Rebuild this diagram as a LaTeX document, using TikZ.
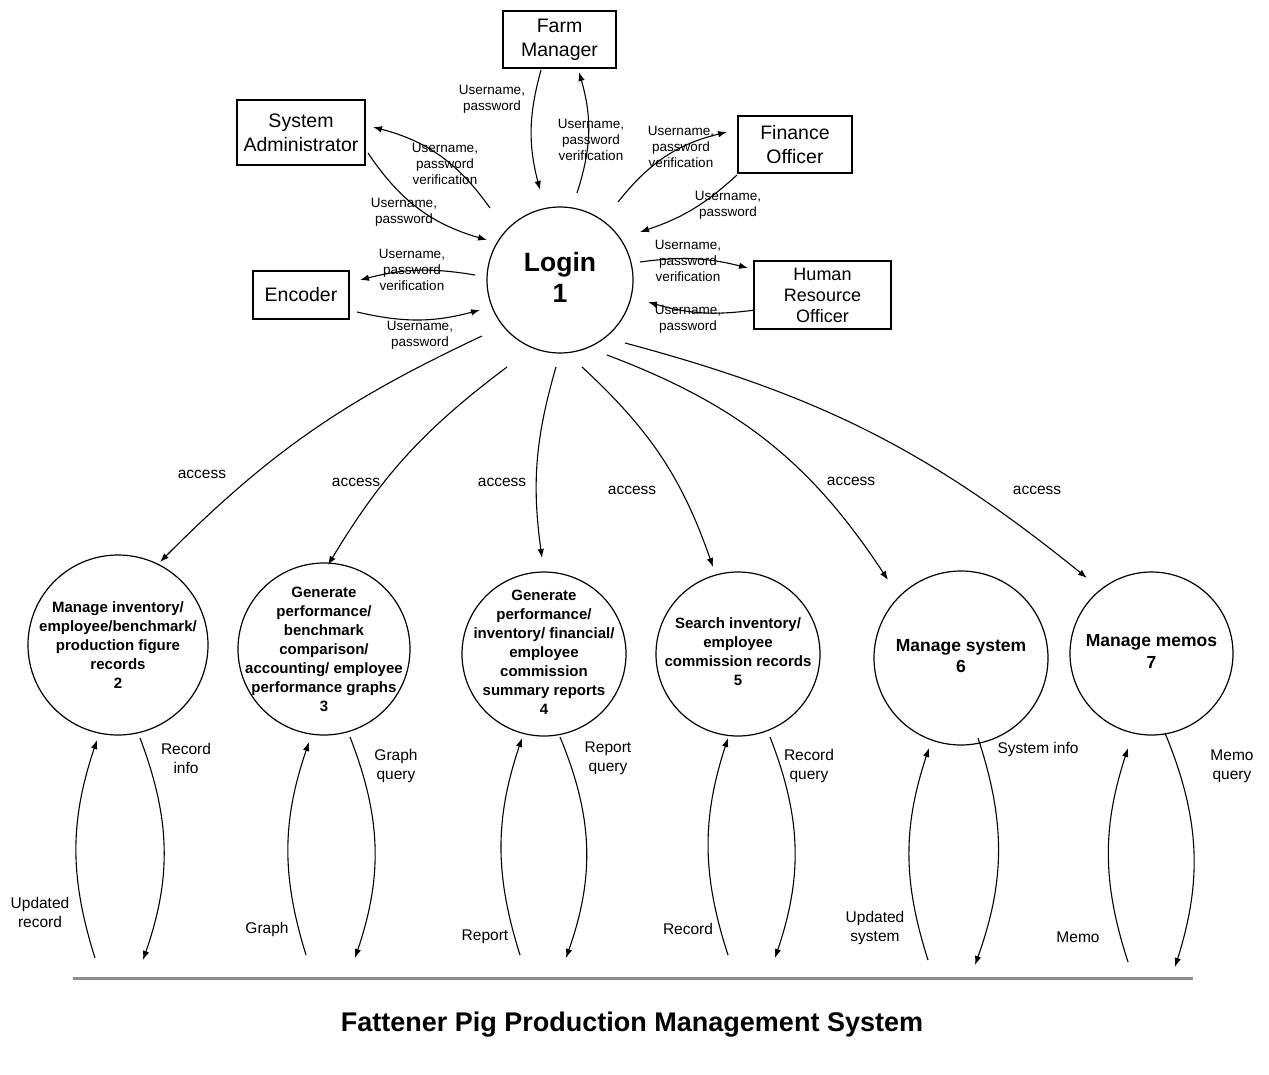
\documentclass[tikz,border=0pt]{standalone}
\usepackage{fontspec}
\setmainfont{Liberation Sans}
\usetikzlibrary{arrows.meta,calc}
\begin{document}
\begin{tikzpicture}[x=1pt,y=1pt,
  ent/.style={draw, line width=1.3pt, align=center, inner sep=0pt, font=\fontsize{19.5}{24}\selectfont},
  proc/.style={draw, circle, line width=1.2pt, inner sep=0pt},
  ptext/.style={font=\bfseries\fontsize{15}{19}\selectfont, align=center, inner sep=0pt},
  ptextL/.style={font=\bfseries\fontsize{17.5}{21.5}\selectfont, align=center, inner sep=0pt},
  lbl/.style={font=\fontsize{13.5}{16}\selectfont, align=center, inner sep=0pt},
  blbl/.style={font=\fontsize{15.5}{19}\selectfont, align=center, inner sep=0pt},
  flow/.style={line width=1.1pt, -{Latex[length=9pt,width=6.5pt]}},
  store/.style={line width=3pt, color=black!45}
]
\useasboundingbox (0,0) rectangle (1269,-1074);

% external entities
\node[ent, minimum width=113pt, minimum height=57pt] (fm) at (559.5,-39.5) {Farm\\Manager};
\node[ent, minimum width=128pt, minimum height=65pt] (sa) at (301,-132.5) {System\\Administrator};
\node[ent, minimum width=114pt, minimum height=57pt] (fo) at (795,-144.5) {Finance\\Officer};
\node[ent, minimum width=96pt, minimum height=48pt] (enc) at (301,-295) {Encoder};
\node[ent, minimum width=137pt, minimum height=68pt, font=\fontsize{18}{21}\selectfont] (hro) at (822.5,-295) {Human\\Resource\\Officer};

% login process
\node[proc, minimum size=146pt, label={[font=\bfseries\fontsize{26.5}{31}\selectfont, align=center, inner sep=0pt, name=tl, yshift=3pt]center:Login\\1}] (login) at (560,-280) {};

% processes
\node[proc, minimum size=180pt, label={[ptext, name=t2]center:Manage inventory/\\employee/benchmark/\\production figure\\records\\2}] (c2) at (118,-645) {};
\node[proc, minimum size=172pt, label={[ptext, name=t3]center:Generate\\performance/\\benchmark\\comparison/\\accounting/ employee\\performance graphs\\3}] (c3) at (324,-649) {};
\node[proc, minimum size=164pt, label={[ptext, name=t4, yshift=2pt]center:Generate\\performance/\\inventory/ financial/\\employee\\commission\\summary reports\\4}] (c4) at (544,-654) {};
\node[proc, minimum size=164pt, label={[ptext, name=t5, yshift=2pt]center:Search inventory/\\employee\\commission records\\5}] (c5) at (738,-654) {};
\node[proc, minimum size=174pt, label={[ptextL, name=t6, yshift=2pt]center:Manage system\\6}] (c6) at (961,-658) {};
\node[proc, minimum size=163pt, label={[ptextL, name=t7, yshift=2pt]center:Manage memos\\7}] (c7) at (1151.5,-653.5) {};

% data store line
\coordinate (ds1) at (73,-978);
\coordinate (ds2) at (1193,-978);
\draw[store] (ds1) -- (ds2);

% login <-> entities
\draw[flow] ($(fm)+(-18.5,-30.5)$) to[bend right=15] ($(login)+(-20,90)$);
\draw[flow] ($(login)+(17,87)$) to[bend right=17] ($(fm)+(19.5,-32.5)$);
\draw[flow] ($(login)+(-70,72)$) to[bend right=20] ($(sa)+(72,5.5)$);
\draw[flow] ($(sa)+(67,-20.5)$) to[bend right=20] ($(login)+(-73,40)$);
\draw[flow] ($(login)+(-85,5)$) to[bend right=12] ($(enc)+(59,15)$);
\draw[flow] ($(enc)+(56,-17)$) to[bend right=14] ($(login)+(-80,-30)$);
\draw[flow] ($(login)+(58,78)$) to[bend left=19] ($(fo)+(-68,12.5)$);
\draw[flow] ($(fo)+(-58,-30.5)$) to[bend left=12] ($(login)+(80,48)$);
\draw[flow] ($(login)+(80,18)$) to[bend left=11] ($(hro)+(-74.5,27)$);
\draw[flow] ($(hro)+(-67.5,-15)$) to[bend left=12] ($(login)+(88,-22)$);

\node[lbl] (lfm1) at (492,-99) {Username,\\password};
\node[lbl] (lfm2) at (591,-140) {Username,\\password\\verification};
\node[lbl] (lsa1) at (445,-164) {Username,\\password\\verification};
\node[lbl] (lsa2) at (404,-212) {Username,\\password};
\node[lbl] (len1) at (412,-270) {Username,\\password\\verification};
\node[lbl] (len2) at (420,-335) {Username,\\password};
\node[lbl] (lfo1) at (681,-147) {Username,\\password\\verification};
\node[lbl] (lfo2) at (728,-205) {Username,\\password};
\node[lbl] (lhr1) at (688,-261) {Username,\\password\\verification};
\node[lbl] (lhr2) at (688,-319) {Username,\\password};

% access flows
\draw[flow] ($(login)+(-78,-56)$) to[bend right=10] ($(c2)+(42,83)$);
\draw[flow] ($(login)+(-53,-87)$) to[bend right=11] ($(c3)+(4,84)$);
\draw[flow] ($(login)+(-4,-87)$) to[bend right=12] ($(c4)+(-2,96)$);
\draw[flow] ($(login)+(22,-87)$) to[bend left=14] ($(c5)+(-25,87)$);
\draw[flow] ($(login)+(47,-75)$) to[bend left=18] ($(c6)+(-73,78)$);
\draw[flow] ($(login)+(65,-63)$) to[bend left=12] ($(c7)+(-64.5,75.5)$);

\node[blbl] (ac2) at (202,-474) {access};
\node[blbl] (ac3) at (356,-482) {access};
\node[blbl] (ac4) at (502,-482) {access};
\node[blbl] (ac5) at (632,-490) {access};
\node[blbl] (ac6) at (851,-481) {access};
\node[blbl] (ac7) at (1037,-490) {access};

% store-side coordinates
\coordinate (s2a) at (95,-958);  \coordinate (s2b) at (143,-960);
\coordinate (s3a) at (306,-955); \coordinate (s3b) at (355,-958);
\coordinate (s4a) at (520,-955); \coordinate (s4b) at (566,-958);
\coordinate (s5a) at (728,-955); \coordinate (s5b) at (775,-958);
\coordinate (s6a) at (928,-960); \coordinate (s6b) at (975,-965);
\coordinate (s7a) at (1128,-962); \coordinate (s7b) at (1175,-967);

% process <-> store flows
\draw[flow] (s2a) to[bend left=18] ($(c2)+(-21,-95)$);
\draw[flow] ($(c2)+(22,-93)$) to[bend left=20] (s2b);
\draw[flow] (s3a) to[bend left=18] ($(c3)+(-15,-93)$);
\draw[flow] ($(c3)+(26,-88)$) to[bend left=20] (s3b);
\draw[flow] (s4a) to[bend left=18] ($(c4)+(-22,-84)$);
\draw[flow] ($(c4)+(16,-83)$) to[bend left=21] (s4b);
\draw[flow] (s5a) to[bend left=18] ($(c5)+(-10,-84)$);
\draw[flow] ($(c5)+(32,-83)$) to[bend left=20] (s5b);
\draw[flow] (s6a) to[bend left=18] ($(c6)+(-32,-90)$);
\draw[flow] ($(c6)+(17,-80)$) to[bend left=19] (s6b);
\draw[flow] (s7a) to[bend left=18] ($(c7)+(-23.5,-94.5)$);
\draw[flow] ($(c7)+(13.5,-79.5)$) to[bend left=20] (s7b);

\node[blbl] (b2r) at (186,-758) {Record\\info};
\node[blbl] (b2l) at (40,-912) {Updated\\record};
\node[blbl] (b3r) at (396,-766) {Graph\\query};
\node[blbl] (b3l) at (267,-929) {Graph};
\node[blbl] (b4r) at (608,-758) {Report\\query};
\node[blbl] (b4l) at (485,-937) {Report};
\node[blbl] (b5r) at (809,-766) {Record\\query};
\node[blbl] (b5l) at (688,-929) {Record};
\node[blbl] (b6r) at (1038,-749) {System info};
\node[blbl] (b6l) at (875,-928) {Updated\\system};
\node[blbl] (b7r) at (1232,-766) {Memo\\query};
\node[blbl] (b7l) at (1078,-937) {Memo};

\node[font=\bfseries\fontsize{27}{32}\selectfont, inner sep=0pt] (title) at (632,-1025) {Fattener Pig Production Management System};
\end{tikzpicture}
\end{document}
